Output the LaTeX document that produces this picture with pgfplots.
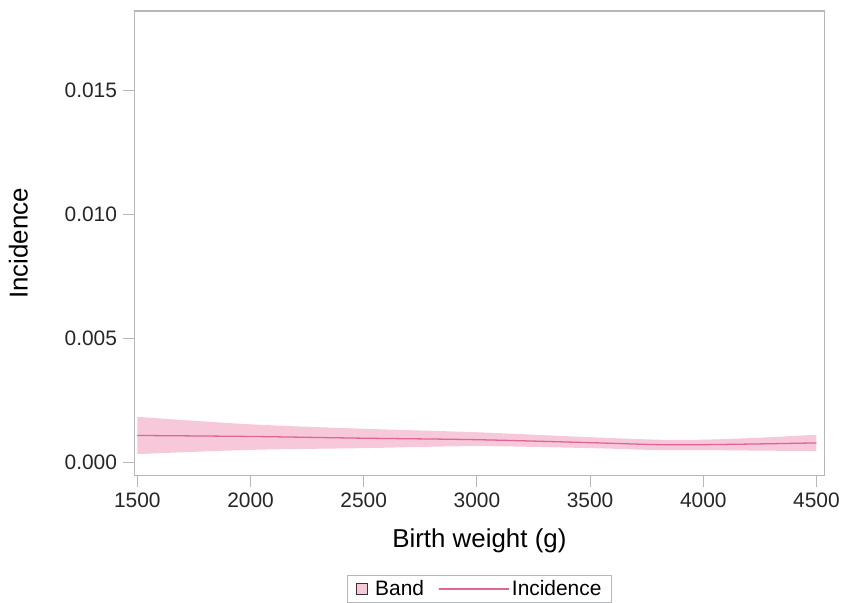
\documentclass[border=0pt]{standalone}
\usepackage{pgfplots}
\pgfplotsset{compat=1.18}
\usepgfplotslibrary{fillbetween}
\usepackage{fontspec}
\setmainfont{Liberation Sans}
\definecolor{linepink}{RGB}{222,102,150}
\definecolor{bandpink}{RGB}{246,200,218}
\definecolor{framegray}{RGB}{178,184,188}
\begin{document}
\begin{tikzpicture}
\begin{axis}[name=ax,
  scale only axis, width=693bp, height=467bp,
  xmin=1487, xmax=4535, ymin=-0.00056, ymax=0.01819,
  xtick={1500,2000,2500,3000,3500,4000,4500},
  ytick={0,0.005,0.010,0.015},
  scaled y ticks=false,
  yticklabel style={/tikz/xshift=-3bp, /pgf/number format/fixed, /pgf/number format/fixed zerofill, /pgf/number format/precision=3, /pgf/number format/assume math mode=true},
  xticklabel style={/tikz/yshift=-3bp, /pgf/number format/1000 sep={}, /pgf/number format/assume math mode=true},
  ticklabel style={font=\fontsize{21bp}{24bp}\selectfont, text=black!85},
  tick align=outside, tick pos=left,
  major tick length=11bp,
  every tick/.style={framegray, line width=1pt},
  axis line style={framegray, line width=1.2pt},
  xlabel={Birth weight (g)}, ylabel={Incidence},
  label style={font=\fontsize{26bp}{30bp}\selectfont},
  xlabel style={yshift=-14bp},
  ylabel style={yshift=30bp},
  legend style={at={(0.5,-0.214)}, anchor=north, legend columns=2,
    draw=framegray, line width=0.8pt, font=\fontsize{21bp}{24bp}\selectfont,
    inner xsep=8bp, inner ysep=3bp,
    /tikz/every even column/.append style={column sep=12bp}},
]
\addplot[name path=up, draw=none, forget plot, smooth] coordinates {
(1500,0.00182) (2000,0.00152) (2500,0.00134) (3000,0.00120) (3500,0.00100) (3800,0.00090) (4000,0.00090) (4250,0.00098) (4500,0.00110)};
\addplot[name path=lo, draw=none, forget plot, smooth] coordinates {
(1500,0.00032) (2000,0.00049) (2500,0.00056) (3000,0.00064) (3500,0.00056) (3800,0.00048) (4000,0.00048) (4250,0.00046) (4500,0.00044)};
\addplot[fill=bandpink, draw=none,
  legend image code/.code={\path (0bp,0bp) -- (18bp,0bp);
    \draw[fill=bandpink, draw=black!80, line width=1pt] (1bp,-5.5bp) rectangle (12bp,5.5bp);}]
  fill between[of=up and lo];
\addlegendentry{Band}
\addplot[linepink, line width=1.3pt, smooth,
  legend image code/.code={\path (0bp,0bp) -- (71bp,0bp);
    \draw[draw=linepink, line width=1pt] (0bp,0bp) -- (65bp,0bp);}] coordinates {
(1500,0.00107) (2000,0.00103) (2500,0.00096) (3000,0.00090) (3500,0.00078) (3800,0.00070) (4000,0.00070) (4250,0.00073) (4500,0.00077)};
\addlegendentry{Incidence}
\end{axis}
\path[use as bounding box] ([shift={(-135bp,-119bp)}]ax.south west) rectangle ([shift={(15bp,11bp)}]ax.north east);
\end{tikzpicture}
\end{document}
